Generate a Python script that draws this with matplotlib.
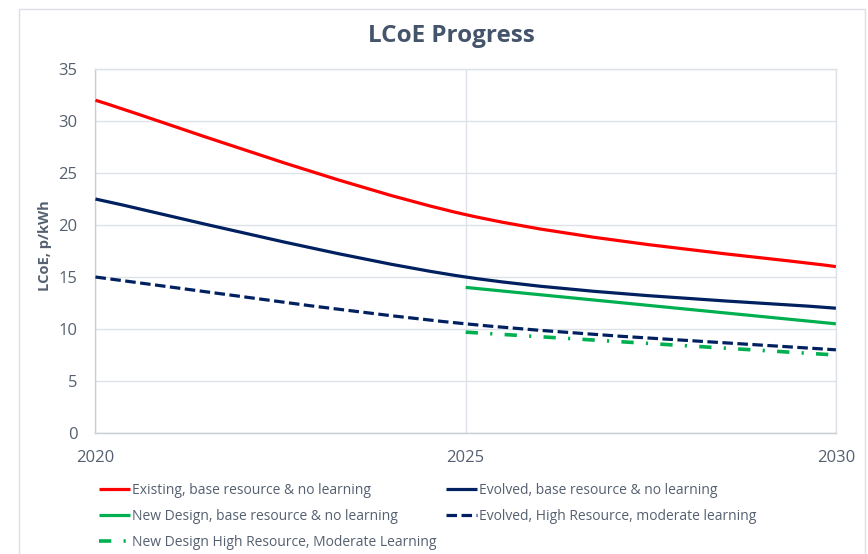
import numpy as np
import matplotlib.pyplot as plt
from matplotlib.path import Path
from matplotlib.patches import PathPatch, Rectangle
from matplotlib.lines import Line2D

plt.rcParams['font.family'] = ['Open Sans', 'DejaVu Sans']

# values (p/kWh)
years_full = [2020, 2025, 2030]
years_late = [2025, 2030]
existing_base = [32.0, 21.0, 16.0]
evolved_base = [22.5, 15.0, 12.0]
evolved_high = [15.0, 10.5, 8.0]
newdesign_base = [14.0, 10.5]
newdesign_high = [9.7, 7.5]

x_ticks = [2020, 2025, 2030]
y_ticks = [0, 5, 10, 15, 20, 25, 30, 35]

RED = '#FF0000'
NAVY = '#002060'
GREEN = '#00B050'
GRID = '#DDE1E8'
TEXT = '#556070'
TITLE = '#44546A'


def smooth_path(x, y):
    # excel-style smoothed line: cubic bezier segments, catmull-rom tangents
    pts = np.column_stack([x, y]).astype(float)
    n = len(pts)
    verts = [pts[0]]
    codes = [Path.MOVETO]
    for i in range(n - 1):
        p0 = pts[i - 1] if i > 0 else pts[i]
        p1 = pts[i]
        p2 = pts[i + 1]
        p3 = pts[i + 2] if i + 2 < n else pts[i + 1]
        verts += [p1 + (p2 - p0) / 6, p2 - (p3 - p1) / 6, p2]
        codes += [Path.CURVE4] * 3
    return Path(verts, codes)


series = [
    ("Existing, base resource & no learning", years_full, existing_base, RED, '-', 2.3),
    ("Evolved, base resource & no learning", years_full, evolved_base, NAVY, '-', 2.3),
    ("New Design, base resource & no learning", years_late, newdesign_base, GREEN, '-', 2.3),
    ("Evolved, High Resource, moderate learning", years_full, evolved_high, NAVY, (0, (3.3, 1.4)), 2.3),
    ("New Design High Resource, Moderate Learning", years_late, newdesign_high, GREEN,
     (0, (3.4, 3.4, 0.6, 3.4)), 2.6),
]

fig = plt.figure(figsize=(8.68, 5.54), dpi=100)
ax = fig.add_axes([0.110, 0.2184, 0.853, 0.657])

handles = {}
for label, xs, ys, color, ls, lw in series:
    patch = PathPatch(smooth_path(xs, ys), fill=False, edgecolor=color,
                      linewidth=lw, linestyle=ls, capstyle='butt', zorder=3)
    ax.add_patch(patch)
    handles[label] = Line2D([], [], color=color, linewidth=lw, linestyle=ls,
                            solid_capstyle='butt', dash_capstyle='butt')

ax.set_xlim(2020, 2030)
ax.set_ylim(0, 35)
ax.set_xticks(x_ticks)
ax.set_yticks(y_ticks)
ax.grid(True, color=GRID, linewidth=1.0)
ax.set_axisbelow(True)
for s in ax.spines.values():
    s.set_color(GRID)
    s.set_linewidth(1.0)
ax.spines['left'].set_color('#C8CDD6')
ax.spines['bottom'].set_color('#C8CDD6')
ax.tick_params(length=0, labelsize=12, labelcolor=TEXT)
ax.tick_params(axis='y', pad=13)
ax.tick_params(axis='x', pad=12)
ax.set_ylabel("LCoE, p/kWh", fontsize=10.5, fontweight='bold', color=TEXT)
ax.yaxis.set_label_coords(-0.059, 0.515)

fig.text(0.52, 0.935, "LCoE Progress", ha='center', va='center',
         fontsize=17.5, fontweight='bold', color=TITLE)

# outer chart border
fig.patches.append(Rectangle((0.022, -0.02), 0.975, 1.003, transform=fig.transFigure,
                             fill=False, edgecolor='#DCE0E6', linewidth=1.0))

left_items = ["Existing, base resource & no learning",
              "New Design, base resource & no learning",
              "New Design High Resource, Moderate Learning"]
right_items = ["Evolved, base resource & no learning",
               "Evolved, High Resource, moderate learning"]

leg_kw = dict(frameon=False, fontsize=10, labelcolor=TEXT, handlelength=2.2,
              handletextpad=0.2, labelspacing=0.82, borderpad=0, borderaxespad=0)
fig.legend([handles[k] for k in left_items], left_items, loc='upper left',
           bbox_to_anchor=(0.114, 0.129), **leg_kw)
fig.legend([handles[k] for k in right_items], right_items, loc='upper left',
           bbox_to_anchor=(0.514, 0.129), **leg_kw)

fig.savefig("out.png", dpi=100)
